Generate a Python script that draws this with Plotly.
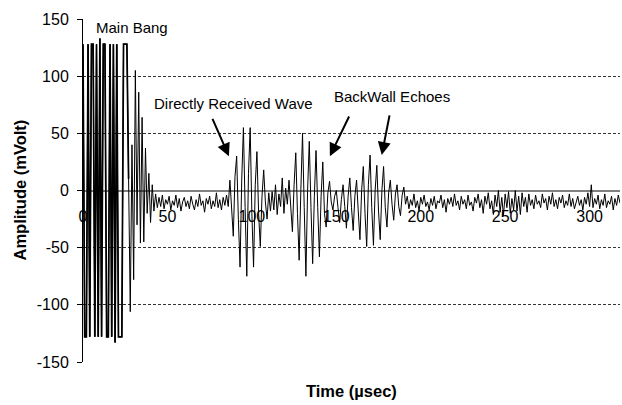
import numpy as np
import plotly.graph_objects as go

# Amplitude samples (mV), one sample per microsecond
main_bang = [128, -128, -128, 128, -128, 128, 128, -128, 128, -128, 133, -128, 128, 128,
             -128, -128, 128, -128, 128, -133, 128, -128, -128, -128, 128, 128, 128, 10,
             -106, 40, -78, 105, -30, 86, -46, 64, -45, 37, -20, 15, -28, 5, -18]
noise_pre = [-3, -15, -6, -14, -4, -16, -8, -12, -5, -17, -9, -13, -4, -15, -7, -18, -10, -6,
             -14, -9, -16, -5, -12, -17, -8, -14, -3, -13, -9, -19, -7, -12, -5, -16, -9, -14,
             -2, -15, -8, -17, -6, -13, -4, -14]
direct_wave = [9, -20, -40, 12, 30, -25, -67, 10, 55, -15, -75, 15, 55, -20, -67, 5, 34, -20,
               -49, -5, 18, -10, -25, -2, -18]
gap_noise = [-1, -17, 5, -21, -3, -14, 11, -20, 2, -12]
echo_1 = [9, -10, -36, 5, 33, -20, -61, 0, 50, -15, -75, 0, 43, -15, -64, -5, 35, -15, -58,
          -5, 25, -20, -32, -2, 8]
echo_2 = [-10, -17, -5, 0, -15, -28, -8, 5, -14, -33, -5, 11, -15, -35, -5, 9, -18, -43, 0, 21,
          -20, -49, 5, 31, -15, -48, 0, 22, -18, -43, 0, 21, -15, -32, -2, 9, -12, -26, -3, 5,
          -14, -22, -4, 3, -12]
noise_post = [-5, -16, -8, -13, -3, -15, -9, -18, -6, -12,
              -4, -14, -10, -17, -7, -13, -5, -16, -9, -11,
              -4, -15, -8, -19, -7, -12, -6, -14, -3, -13,
              -9, -17, -5, -12, -8, -16, -4, -13, -10, -18,
              -6, -11, -3, -15, -8, -20, -5, -12, -2, -16,
              -9, -21, -4, -14, 0, -19, -6, -22, -3, -15,
              -1, -20, -7, -17, 0, -18, -5, -21, -2, -14,
              -6, -19, -3, -13, -8, -16, -4, -12, -9, -15,
              -3, -11, -7, -17, -5, -12, -2, -14, -8, -16,
              -6, -11, -4, -15, -9, -13, -3, -14, -7, -16,
              -10, -5, -13, -8, -17, -6, -12, -2, -14, 5,
              -15, -7, -12, -4, -16, -8, -13, -3, -15, -9,
              -12, -5, -17, -7, -13, -4, -11]

sample_step_us = 1.0
x_ticks = [0, 50, 100, 150, 200, 250, 300]
y_ticks = [-150, -100, -50, 0, 50, 100, 150]

amplitude = main_bang + noise_pre + direct_wave + gap_noise + echo_1 + echo_2 + noise_post
time_us = np.arange(len(amplitude)) * sample_step_us
n_bang = 28  # saturated part of the main bang drawn with a heavier stroke

FONT = "Liberation Sans, Arial, sans-serif"

fig = go.Figure()
fig.add_trace(go.Scatter(x=time_us, y=amplitude, mode="lines",
                         line=dict(color="black", width=1), hoverinfo="skip",
                         showlegend=False))
fig.add_trace(go.Scatter(x=time_us[:n_bang], y=amplitude[:n_bang], mode="lines",
                         line=dict(color="black", width=1.7), hoverinfo="skip",
                         showlegend=False))

arrow_style = dict(showarrow=True, arrowhead=2, arrowsize=1.3, arrowwidth=2,
                   arrowcolor="black", axref="x", ayref="y", text="")
annotations = [
    dict(x=6.5, y=143, xref="x", yref="y", text="Main Bang", showarrow=False,
         xanchor="left", yanchor="middle", font=dict(family=FONT, size=15, color="black")),
    dict(x=89, y=76, xref="x", yref="y", text="Directly Received Wave", showarrow=False,
         xanchor="center", yanchor="middle", font=dict(family=FONT, size=15, color="black")),
    dict(x=183, y=82, xref="x", yref="y", text="BackWall Echoes", showarrow=False,
         xanchor="center", yanchor="middle", font=dict(family=FONT, size=15, color="black")),
    dict(x=86.4, y=30, ax=76.3, ay=64, xref="x", yref="y", **arrow_style),
    dict(x=146.2, y=30, ax=158, ay=66, xref="x", yref="y", **arrow_style),
    dict(x=176.9, y=31, ax=181.7, ay=67, xref="x", yref="y", **arrow_style),
    dict(x=0.5, y=0, xref="paper", yref="paper", text="<b>Time (µsec)</b>", showarrow=False,
         xanchor="center", yanchor="top", yshift=-18,
         font=dict(family=FONT, size=16.5, color="black")),
    dict(x=0, y=0.5, xref="paper", yref="paper", text="<b>Amplitude (mVolt)</b>",
         showarrow=False, textangle=-90, xanchor="center", yanchor="middle", xshift=-64,
         font=dict(family=FONT, size=16.5, color="black")),
]

fig.update_layout(
    width=622, height=405, autosize=False,
    margin=dict(l=83, r=2, t=19, b=43, autoexpand=False),
    paper_bgcolor="white", plot_bgcolor="white",
    font=dict(family=FONT, size=16, color="black"),
    annotations=annotations,
    xaxis=dict(range=[0, 318], tickvals=x_ticks, ticktext=[str(v) for v in x_ticks],
               anchor="free", position=0.5, showline=False, showgrid=False, zeroline=False,
               ticks="", ticklabelstandoff=14, automargin=False,
               tickfont=dict(family=FONT, size=16)),
    yaxis=dict(range=[-150, 150], tickvals=y_ticks, ticktext=[str(v) for v in y_ticks],
               showgrid=True, gridcolor="#333333", gridwidth=1, griddash="3px,2px",
               zeroline=True, zerolinecolor="#808080", zerolinewidth=1.5,
               showline=True, linecolor="black", linewidth=1, automargin=False,
               ticks="outside", ticklen=5, tickcolor="black", ticklabelstandoff=5,
               tickfont=dict(family=FONT, size=16)),
)

fig.write_html("out.html", config={"displayModeBar": False},
               post_script="document.body.style.margin='0';document.body.style.overflow='hidden';")
